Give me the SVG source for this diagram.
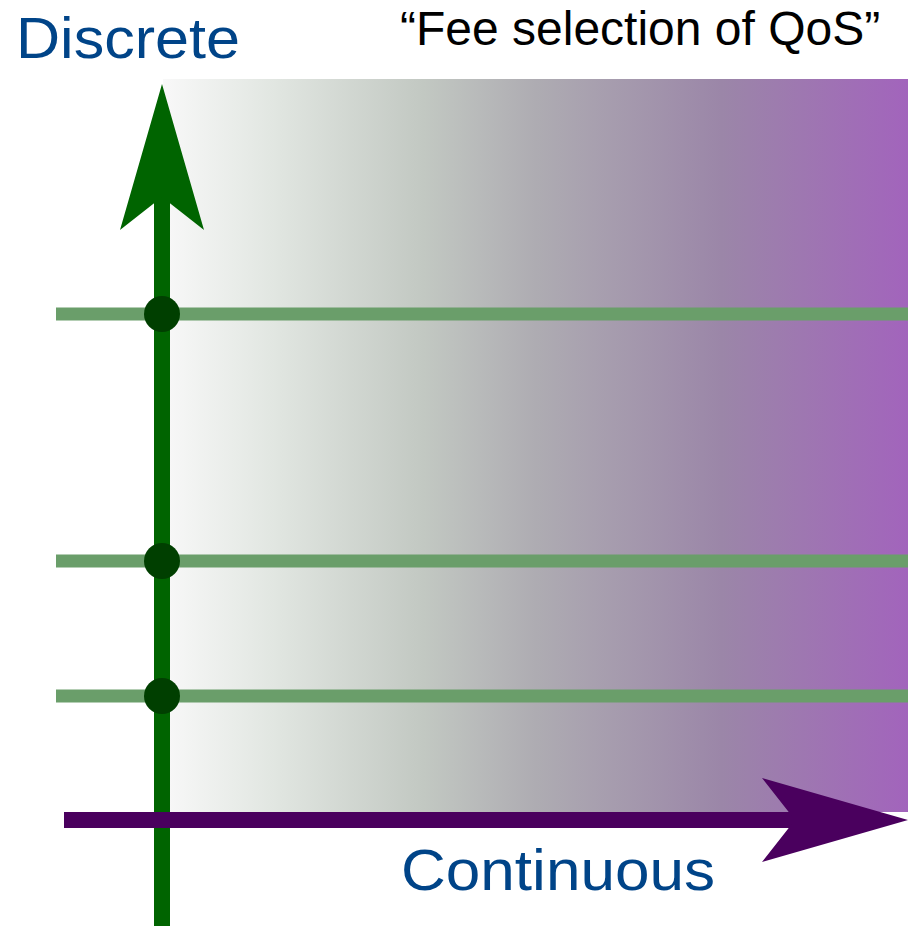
<svg xmlns="http://www.w3.org/2000/svg" width="908" height="926" viewBox="0 0 908 926">
<defs>
<linearGradient id="bg" x1="0" y1="0" x2="1" y2="0">
<stop offset="0" stop-color="#f8f8f8"/>
<stop offset="0.15" stop-color="#e1e6e1"/>
<stop offset="0.35" stop-color="#c2c8c2"/>
<stop offset="0.5" stop-color="#aeacb2"/>
<stop offset="0.75" stop-color="#9b86a8"/>
<stop offset="1" stop-color="#a264bc"/>
</linearGradient>
<style>
.lbl{font-family:"Liberation Sans",Arial,sans-serif;font-size:57px;fill:#004488}
.ttl{font-family:"Liberation Sans",Arial,sans-serif;font-size:48px;fill:#000}
.hl{stroke:#6a9e6a;stroke-width:13}
.dot{fill:#003f00}
</style>
</defs>
<rect id="background" x="163" y="79" width="745" height="733" fill="url(#bg)"/>
<g id="connectors">
<line class="hl" x1="56" y1="314" x2="908" y2="314"/>
<line class="hl" x1="56" y1="561" x2="908" y2="561"/>
<line class="hl" x1="56" y1="696" x2="908" y2="696"/>
<g id="vertical-axis">
<rect x="154" y="190" width="16" height="736" fill="#006400"/>
<polygon points="162,84 204,230 162,197 120,230" fill="#006400"/>
</g>
<g id="horizontal-axis">
<rect x="64" y="812" width="740" height="16" fill="#4a005e"/>
<polygon points="908,820 762,862 795,820 762,778" fill="#4a005e"/>
</g>
</g>
<g id="node-1"><circle class="dot" cx="162" cy="314" r="18"/></g>
<g id="node-2"><circle class="dot" cx="162" cy="561" r="18"/></g>
<g id="node-3"><circle class="dot" cx="162" cy="696" r="18"/></g>
<g id="label-discrete"><text class="lbl" x="16" y="58" textLength="224" lengthAdjust="spacingAndGlyphs">Discrete</text></g>
<g id="label-continuous"><text class="lbl" x="401" y="890" textLength="314" lengthAdjust="spacingAndGlyphs">Continuous</text></g>
<g id="title"><text class="ttl" x="400" y="45">“Fee selection of QoS”</text></g>
</svg>
